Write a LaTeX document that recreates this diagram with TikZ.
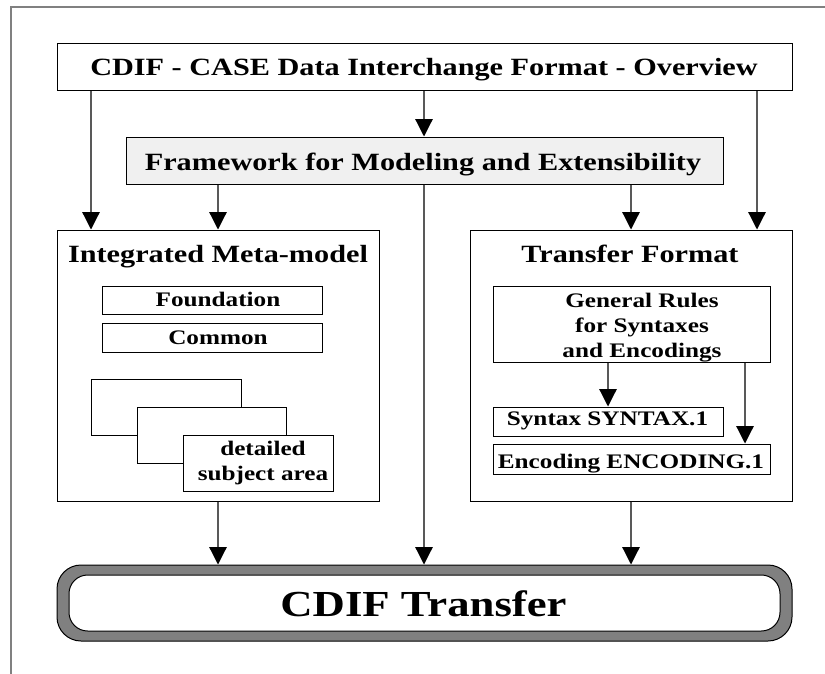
\documentclass[tikz,border=0pt]{standalone}
\usepackage{fontspec}
\setmainfont{Liberation Serif}[FakeStretch=1.22]
\usetikzlibrary{arrows.meta,fit}
\begin{document}
\begin{tikzpicture}[x=0.75pt,y=-0.75pt,
  box/.style={draw=black, line width=0.75pt, inner sep=0pt, fill=white},
  arr/.style={draw=black!65, line width=0.9pt, -{Triangle[length=13pt,width=13pt,color=black]}},
  hdr/.style={font=\bfseries\fontsize{18.6}{22}\selectfont, inner sep=0pt},
  sml/.style={font=\bfseries\fontsize{15.5}{18.75}\selectfont, inner sep=0pt, align=center},
  big/.style={font=\bfseries\fontsize{27.5}{33}\selectfont, inner sep=0pt}]
\useasboundingbox (0,0) rectangle (825,674);
\draw[gray, line width=0.9pt] (11,674) -- (11,7) -- (825,7);

% title
\node[box, fit={(57,44)(792,91)}] (title) {};
\node[hdr, anchor=base] (titletxt) at (424,76) {CDIF - CASE Data Interchange Format - Overview};

% framework
\node[box, fill=gray!12, fit={(126,137)(723,184)}] (frame) {};
\node[hdr, anchor=base] (frametxt) at (423,170) {Framework for Modeling and Extensibility};

% integrated meta-model
\node[box, fit={(57,230)(379,501)}] (meta) {};
\node[hdr, anchor=base] (metatxt) at (218,262) {Integrated Meta-model};
\node[box, fit={(102,286)(322,314)}] (found) {};
\node[sml, anchor=base] (foundtxt) at (218,306) {Foundation};
\node[box, fit={(102,323)(322,352)}] (common) {};
\node[sml, anchor=base] (commontxt) at (218,344) {Common};
\node[box, fit={(91,379)(241,435)}] (sa1) {};
\node[box, fit={(137,407)(286,463)}] (sa2) {};
\node[box, fit={(183,435)(333,491)}] (sa3) {};
\node[sml] (satxt) at (263,463.5) {detailed\\subject area};

% transfer format
\node[box, fit={(470,230)(792,501)}] (tf) {};
\node[hdr, anchor=base] (tftxt) at (630,262) {Transfer Format};
\node[box, fit={(493,286)(770,362)}] (rules) {};
\node[sml] (rulestxt) at (642,328) {General Rules\\for Syntaxes\\and Encodings};
\node[box, fit={(493,407)(723,436)}] (syn) {};
\node[sml, anchor=base] (syntxt) at (607.5,425) {Syntax SYNTAX.1};
\node[box, fit={(493,444)(770,474)}] (enc) {};
\node[sml, anchor=base] (enctxt) at (631,468) {Encoding ENCODING.1};

% CDIF transfer
\node[draw=black, line width=0.75pt, fill=gray, rounded corners=18pt, inner sep=0pt, fit={(57,565)(792,641)}] (cdif) {};
\node[draw=black, line width=0.75pt, fill=white, rounded corners=14pt, inner sep=0pt, fit={(69,575)(780,631)}] (cdifin) {};
\node[big, anchor=base] (cdiftxt) at (423.5,616) {CDIF Transfer};

% connectors
\draw[arr] (91,0 |- title.south) -- (91,0 |- meta.north);
\draw[arr] (424,0 |- title.south) -- (424,0 |- frame.north);
\draw[arr] (757,0 |- title.south) -- (757,0 |- tf.north);
\draw[arr] (218,0 |- frame.south) -- (218,0 |- meta.north);
\draw[arr] (631,0 |- frame.south) -- (631,0 |- tf.north);
\draw[arr] (424,0 |- frame.south) -- (424,0 |- cdif.north);
\draw[arr] (608,0 |- rules.south) -- (608,0 |- syn.north);
\draw[arr] (745,0 |- rules.south) -- (745,0 |- enc.north);
\draw[arr] (218,0 |- meta.south) -- (218,0 |- cdif.north);
\draw[arr] (631,0 |- tf.south) -- (631,0 |- cdif.north);
\end{tikzpicture}
\end{document}
